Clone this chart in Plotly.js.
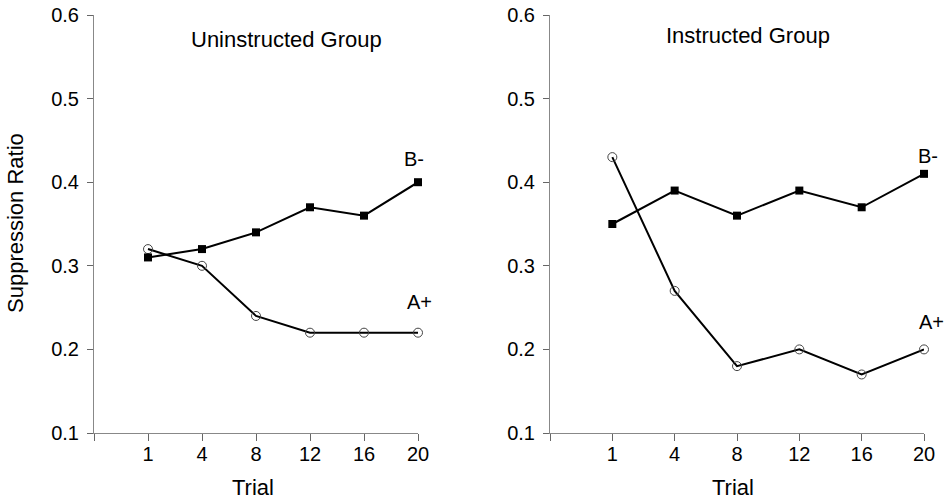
<!DOCTYPE html>
<html>
<head>
<meta charset="utf-8">
<script src="https://cdn.plot.ly/plotly-3.0.1.min.js"></script>
<style>html,body{margin:0;padding:0;background:#fff;}#chart{width:952px;height:500px;}</style>
</head>
<body>
<div id="chart"></div>
<script>
// Data
var trials = ['1', '4', '8', '12', '16', '20'];
var uninstructedB = [0.31, 0.32, 0.34, 0.37, 0.36, 0.40];
var uninstructedA = [0.32, 0.30, 0.24, 0.22, 0.22, 0.22];
var instructedB = [0.35, 0.39, 0.36, 0.39, 0.37, 0.41];
var instructedA = [0.43, 0.27, 0.18, 0.20, 0.17, 0.20];
var yTicks = [0.1, 0.2, 0.3, 0.4, 0.5, 0.6];

var xIdx = trials.map(function (t, i) { return i; });
var F = 'Liberation Sans, Arial, sans-serif';

function lineTrace(y, xa, ya, filled) {
  return {
    x: xIdx, y: y, xaxis: xa, yaxis: ya, type: 'scatter', mode: 'lines+markers',
    cliponaxis: false,
    line: {color: '#000', width: 2},
    marker: filled
      ? {symbol: 'square', size: 8, color: '#000', line: {width: 0}}
      : {symbol: 'circle-open', size: 9, color: '#444', line: {width: 1, color: '#444'}},
    showlegend: false, hoverinfo: 'skip'
  };
}

var data = [
  lineTrace(uninstructedA, 'x', 'y', false),
  lineTrace(uninstructedB, 'x', 'y', true),
  lineTrace(instructedA, 'x2', 'y2', false),
  lineTrace(instructedB, 'x2', 'y2', true)
];

function xAxis(domain, anchor) {
  return {
    domain: domain, anchor: anchor, range: [-1, 5],
    tickmode: 'array', tickvals: [-1].concat(xIdx), ticktext: [''].concat(trials),
    ticks: 'outside', ticklen: 7, tickwidth: 1, tickcolor: '#666',
    ticklabelstandoff: -4,
    showline: true, linecolor: '#888', linewidth: 1,
    showgrid: false, zeroline: false,
    tickfont: {family: F, size: 20, color: '#000'}
  };
}
function yAxis(anchor) {
  return {
    domain: [1 - 433 / 500, 1 - 15 / 500], anchor: anchor, range: [0.1, 0.6],
    tickmode: 'array', tickvals: yTicks, ticktext: yTicks.map(function (v) { return v.toFixed(1); }),
    ticks: 'outside', ticklen: 6, tickwidth: 1, tickcolor: '#666',
    ticklabelstandoff: 4,
    showline: true, linecolor: '#888', linewidth: 1,
    showgrid: false, zeroline: false,
    tickfont: {family: F, size: 20, color: '#000'}
  };
}

function label(text, x, y, size, angle) {
  return {text: text, xref: 'paper', yref: 'paper', x: x / 952, y: 1 - y / 500, showarrow: false,
    textangle: angle || 0, xanchor: 'center', yanchor: 'middle', font: {family: F, size: size, color: '#000'}};
}

var layout = {
  width: 952, height: 500,
  margin: {l: 0, r: 0, t: 0, b: 0},
  paper_bgcolor: '#fff', plot_bgcolor: '#fff',
  xaxis: xAxis([94 / 952, 418 / 952], 'y'),
  yaxis: yAxis('x'),
  xaxis2: xAxis([550 / 952, 924 / 952], 'y2'),
  yaxis2: yAxis('x2'),
  annotations: [
    label('Uninstructed Group', 286, 40, 22),
    label('Instructed Group', 748, 36, 22),
    label('B-', 414, 159, 20),
    label('A+', 419, 302, 20),
    label('B-', 928, 156, 20),
    label('A+', 931, 322, 20),
    label('Suppression Ratio', 16, 223, 22, -90),
    label('Trial', 253, 487, 22),
    label('Trial', 733, 487, 22)
  ]
};

Plotly.newPlot('chart', data, layout, {staticPlot: true, displayModeBar: false});
</script>
</body>
</html>
